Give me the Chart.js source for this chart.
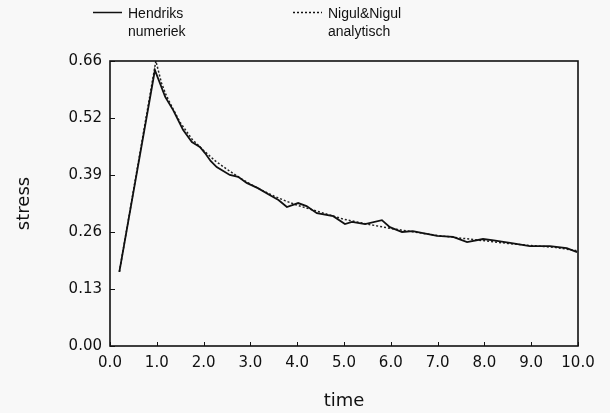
<!DOCTYPE html>
<html>
<head>
<meta charset="utf-8">
<title>stress vs time</title>
<script src="https://cdn.jsdelivr.net/npm/chart.js@4.4.1/dist/chart.umd.min.js"></script>
<style>
  html, body { margin: 0; padding: 0; background: #f8f8f8; }
  #wrap { width: 610px; height: 413px; position: relative; }
</style>
</head>
<body>
<div id="wrap"><canvas id="stressChart"></canvas></div>
<script>
// Hendriks numeriek (solid line)
var hendriksTime = [0.2, 0.96, 1.18, 1.35, 1.56, 1.75, 1.92, 2.03, 2.15, 2.28, 2.56, 2.74, 2.92, 3.16, 3.42, 3.6, 3.78, 4.02, 4.2, 4.42, 4.77, 5.02, 5.17, 5.45, 5.81, 5.98, 6.24, 6.47, 6.99, 7.33, 7.63, 7.97, 8.2, 8.44, 8.55, 8.97, 9.4, 9.76, 9.98];
var hendriksStress = [0.169, 0.629, 0.568, 0.538, 0.493, 0.465, 0.454, 0.44, 0.422, 0.408, 0.39, 0.386, 0.372, 0.36, 0.344, 0.333, 0.317, 0.326, 0.319, 0.303, 0.296, 0.278, 0.283, 0.278, 0.287, 0.271, 0.26, 0.262, 0.251, 0.249, 0.237, 0.244, 0.241, 0.237, 0.235, 0.228, 0.228, 0.223, 0.214];

// Nigul&Nigul analytisch (dotted line)
var nigulTime = [0.2, 0.98, 1.1, 1.2, 1.35, 1.5, 1.75, 2.0, 2.25, 2.5, 2.75, 3.0, 3.25, 3.5, 3.75, 4.0, 4.5, 5.0, 5.5, 6.0, 6.5, 7.0, 7.5, 8.0, 8.5, 9.0, 9.5, 10.0];
var nigulStress = [0.169, 0.65, 0.6, 0.572, 0.54, 0.51, 0.472, 0.446, 0.422, 0.403, 0.385, 0.369, 0.355, 0.342, 0.331, 0.321, 0.305, 0.289, 0.278, 0.268, 0.26, 0.252, 0.246, 0.24, 0.234, 0.229, 0.225, 0.217];

var yTickLabels = ['0.00', '0.13', '0.26', '0.39', '0.52', '0.66'];
var xTickLabels = ['0.0', '1.0', '2.0', '3.0', '4.0', '5.0', '6.0', '7.0', '8.0', '9.0', '10.0'];

function toPoints(xs, ys) {
    return xs.map(function (x, i) { return { x: x, y: ys[i] }; });
}

// frame, inward tick marks and the two-line legend
var framePlugin = {
    id: 'frame',
    beforeDraw: function (chart) {
        var ctx = chart.ctx;
        ctx.save();
        ctx.fillStyle = '#f8f8f8';
        ctx.fillRect(0, 0, chart.width, chart.height);
        ctx.restore();
    },
    afterDraw: function (chart) {
        var ctx = chart.ctx, a = chart.chartArea;
        var xs = chart.scales.x, ys = chart.scales.y;
        ctx.save();
        ctx.strokeStyle = '#111';
        ctx.lineWidth = 1.6;
        ctx.strokeRect(a.left, a.top, a.right - a.left, a.bottom - a.top);
        ctx.lineWidth = 1;
        ctx.beginPath();
        xs.ticks.forEach(function (t) {
            var px = Math.round(xs.getPixelForValue(t.value)) + 0.5;
            ctx.moveTo(px, a.bottom);
            ctx.lineTo(px, a.bottom - 4);
        });
        ys.ticks.forEach(function (t) {
            var py = Math.round(ys.getPixelForValue(t.value)) + 0.5;
            ctx.moveTo(a.left, py);
            ctx.lineTo(a.left + 5, py);
        });
        ctx.stroke();

        // legend
        ctx.font = '14px "Liberation Sans", Arial, sans-serif';
        ctx.fillStyle = '#111';
        ctx.textBaseline = 'middle';
        ctx.textAlign = 'left';
        chart.data.datasets.forEach(function (ds, i) {
            var x0 = i === 0 ? 93 : 293;
            ctx.beginPath();
            ctx.lineWidth = 1.5;
            ctx.setLineDash(ds.borderDash || []);
            ctx.moveTo(x0, 12.5);
            ctx.lineTo(x0 + 29, 12.5);
            ctx.stroke();
            ctx.setLineDash([]);
            ds.label.forEach(function (line, j) {
                ctx.fillText(line, x0 + 35, 14 + j * 18);
            });
        });
        ctx.restore();
    }
};

var tickFont = { family: '"DejaVu Sans", sans-serif', size: 15 };
var titleFont = { family: '"DejaVu Sans", sans-serif', size: 18 };

new Chart(document.getElementById('stressChart'), {
    type: 'line',
    data: {
        datasets: [{
            label: ['Hendriks', 'numeriek'],
            data: toPoints(hendriksTime, hendriksStress),
            borderColor: '#111',
            borderWidth: 1.8,
            pointRadius: 0,
            tension: 0,
            fill: false
        }, {
            label: ['Nigul&Nigul', 'analytisch'],
            data: toPoints(nigulTime, nigulStress),
            borderColor: '#222',
            borderWidth: 1.5,
            borderDash: [2, 2],
            pointRadius: 0,
            tension: 0,
            fill: false
        }]
    },
    options: {
        responsive: true,
        maintainAspectRatio: false,
        animation: false,
        layout: { padding: { top: 61, right: 32, left: 0, bottom: 0 } },
        plugins: { legend: { display: false }, tooltip: { enabled: false } },
        scales: {
            x: {
                type: 'linear',
                min: 0, max: 10,
                grid: { display: false, drawTicks: false },
                border: { display: false },
                ticks: {
                    stepSize: 1,
                    color: '#111',
                    font: tickFont,
                    padding: 8,
                    maxRotation: 0,
                    callback: function (v, i) { return xTickLabels[i]; }
                },
                title: { display: true, text: 'time', color: '#111', font: titleFont, padding: { top: 0, bottom: 1 } },
                afterFit: function (s) { s.height = 67; }
            },
            y: {
                min: 0, max: 0.65,
                grid: { display: false, drawTicks: false },
                border: { display: false },
                ticks: {
                    stepSize: 0.13,
                    color: '#111',
                    font: tickFont,
                    padding: 8,
                    callback: function (v, i) { return yTickLabels[i]; }
                },
                title: { display: true, text: 'stress', color: '#111', font: titleFont, padding: { top: 14, bottom: 0 } },
                afterFit: function (s) { s.width = 110; }
            }
        }
    },
    plugins: [framePlugin]
});
</script>
</body>
</html>
